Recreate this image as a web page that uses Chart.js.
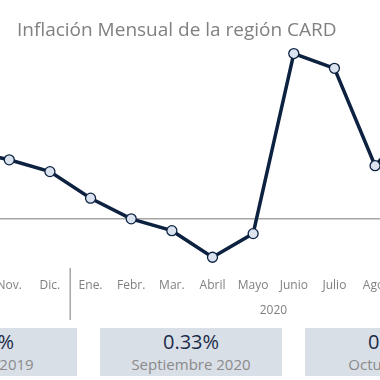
<!DOCTYPE html>
<html>
<head>
<meta charset="utf-8">
<script src="https://cdn.jsdelivr.net/npm/chart.js@4"></script>
<style>
  html, body { margin:0; padding:0; width:380px; height:380px; overflow:hidden; background:#fff; }
  #wrap { position:absolute; left:-58px; top:0; width:541px; height:322px; }
  #title { position:absolute; left:17px; top:16px; font-family:"Open Sans", sans-serif; font-size:19px; color:#808080; white-space:nowrap; z-index:2; }
  .box { position:absolute; top:328px; width:182px; height:48px; background:#d9dfe7; text-align:center; font-family:"Open Sans", sans-serif; }
  .box .v { font-size:20px; color:#1c2a48; line-height:22px; margin-top:3px; }
  .box .l { font-size:15px; color:#8a8a8a; line-height:22px; }
</style>
</head>
<body>
<div id="title">Inflación Mensual de la región CARD</div>
<div id="wrap"><canvas id="c"></canvas></div>
<div id="boxes"></div>
<script>
const months = ['Oct.','Nov.','Dic.','Ene.','Febr.','Mar.','Abril','Mayo','Junio','Julio','Ago.','Sept.','Oct.'];
const years  = ['2019','2019','2019','2020','2020','2020','2020','2020','2020','2020','2020','2020','2020'];
const inflation = [0.23, 0.20, 0.16, 0.07, 0.00, -0.04, -0.13, -0.05, 0.56, 0.51, 0.18, 0.33, 0.25];
const boxValues = ['0.23%', '0.33%', '0.25%'];
const boxLabels = ['Octubre 2019', 'Septiembre 2020', 'Octubre 2020'];

// summary boxes
const boxLefts = [-105, 100, 305];
const boxesEl = document.getElementById('boxes');
boxValues.forEach((v, i) => {
  const d = document.createElement('div');
  d.className = 'box';
  d.style.left = boxLefts[i] + 'px';
  d.innerHTML = '<div class="v">' + v + '</div><div class="l">' + boxLabels[i] + '</div>';
  boxesEl.appendChild(d);
});

const zeroLinePlugin = {
  id: 'zeroLine',
  beforeDatasetsDraw(chart) {
    const ctx = chart.ctx, ys = chart.scales.y, area = chart.chartArea;
    const y0 = ys.getPixelForValue(0);
    ctx.save();
    ctx.strokeStyle = '#a6a6a6';
    ctx.lineWidth = 1.5;
    ctx.beginPath();
    ctx.moveTo(area.left, y0);
    ctx.lineTo(area.right, y0);
    ctx.stroke();
    ctx.restore();
  }
};

const groupPlugin = {
  id: 'groups',
  afterDraw(chart) {
    const ctx = chart.ctx, xs = chart.scales.x, area = chart.chartArea;
    ctx.save();
    let start = 0;
    for (let i = 1; i <= years.length; i++) {
      if (i === years.length || years[i] !== years[start]) {
        if (start > 0) {
          const sx = (xs.getPixelForValue(start - 1) + xs.getPixelForValue(start)) / 2;
          ctx.strokeStyle = '#a6a6a6';
          ctx.lineWidth = 1.5;
          ctx.beginPath();
          ctx.moveTo(sx, area.bottom - 4);
          ctx.lineTo(sx, area.bottom + 48);
          ctx.stroke();
          const cx = (xs.getPixelForValue(start) + xs.getPixelForValue(i - 1)) / 2;
          ctx.fillStyle = '#808080';
          ctx.font = '12px "Open Sans", sans-serif';
          ctx.textAlign = 'center';
          ctx.textBaseline = 'middle';
          ctx.fillText(years[start], cx, area.bottom + 39);
        }
        start = i;
      }
    }
    ctx.restore();
  }
};

new Chart(document.getElementById('c'), {
  type: 'line',
  data: {
    labels: months,
    datasets: [{
      data: inflation,
      borderColor: '#0d2240',
      borderWidth: 3.5,
      pointRadius: 5,
      pointBackgroundColor: '#dbe3f1',
      pointBorderColor: '#0d2240',
      pointBorderWidth: 1.3,
      tension: 0,
      clip: false
    }]
  },
  options: {
    responsive: true,
    maintainAspectRatio: false,
    animation: false,
    layout: { padding: 0 },
    plugins: { legend: { display: false }, tooltip: { enabled: false } },
    scales: {
      x: {
        offset: true,
        grid: { display: false, drawTicks: false },
        border: { display: false },
        ticks: { color: '#808080', font: { family: 'Open Sans', size: 12 }, padding: 6, maxRotation: 0, autoSkip: false },
        afterFit(s) { s.height = 50; }
      },
      y: {
        display: false,
        min: -0.18,
        max: 0.72
      }
    }
  },
  plugins: [zeroLinePlugin, groupPlugin]
});
</script>
</body>
</html>
